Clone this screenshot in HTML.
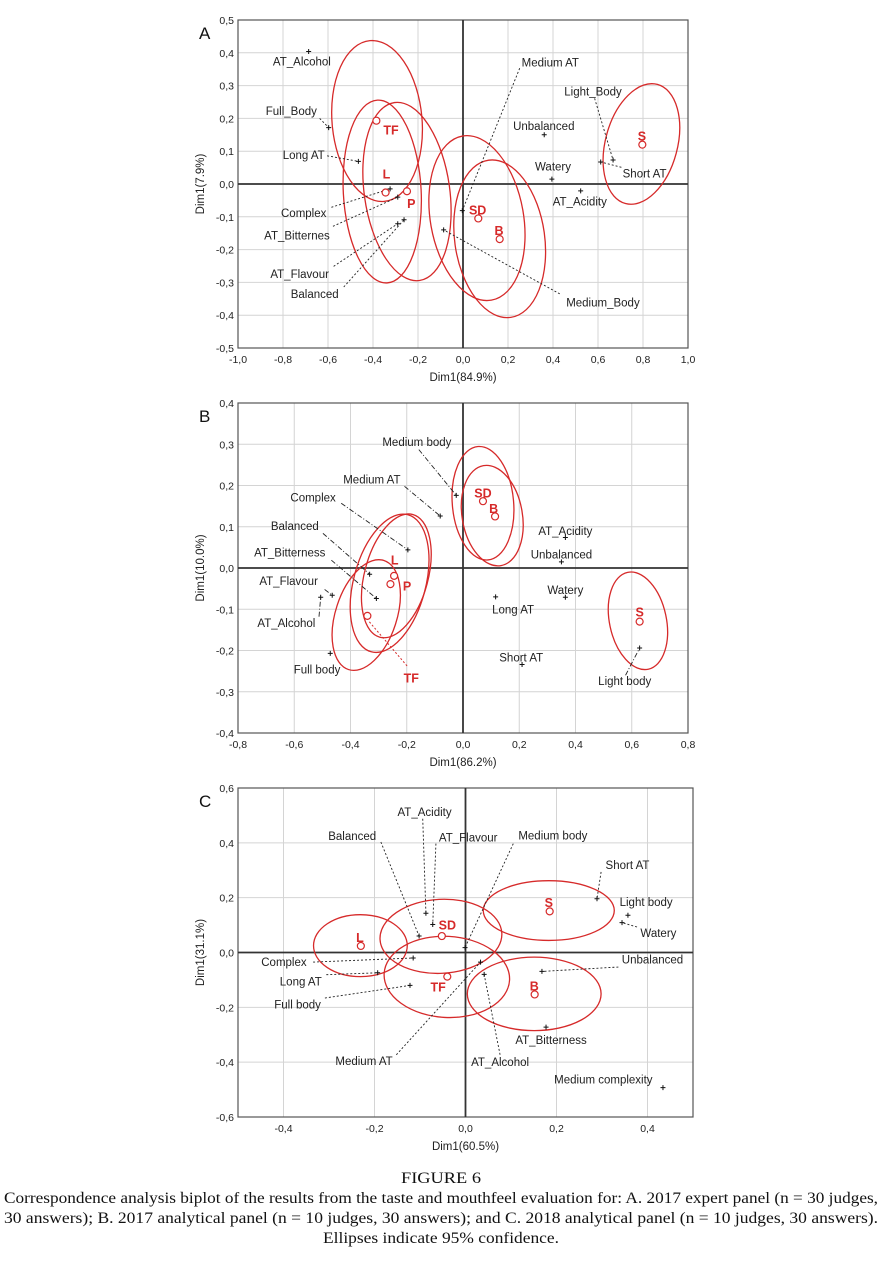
<!DOCTYPE html>
<html><head><meta charset="utf-8"><style>
html,body{margin:0;padding:0;background:#fff;}
svg{display:block;}
</style></head><body>
<svg id="fig" xmlns="http://www.w3.org/2000/svg" width="882" height="1261" viewBox="0 0 882 1261">
<rect x="0" y="0" width="882" height="1261" fill="#fff"/>
<g id="caption" font-family="Liberation Serif, serif" fill="#111">
<text x="441" y="1183" text-anchor="middle" font-size="16" textLength="80" lengthAdjust="spacingAndGlyphs">FIGURE 6</text>
<text x="4" y="1203" font-size="16" textLength="874" lengthAdjust="spacingAndGlyphs">Correspondence analysis biplot of the results from the taste and mouthfeel evaluation for: A. 2017 expert panel (n = 30 judges,</text>
<text x="4" y="1223" font-size="16" textLength="874" lengthAdjust="spacingAndGlyphs">30 answers); B. 2017 analytical panel (n = 10 judges, 30 answers); and C. 2018 analytical panel (n = 10 judges, 30 answers).</text>
<text x="441" y="1243" text-anchor="middle" font-size="16" textLength="236" lengthAdjust="spacingAndGlyphs">Ellipses indicate 95% confidence.</text>
</g>
</svg>
<script>
// ---------- Panel A data ----------
const aXTicks = [-1.0,-0.8,-0.6,-0.4,-0.2,0.0,0.2,0.4,0.6,0.8,1.0];
const aYTicks = [0.5,0.4,0.3,0.2,0.1,0.0,-0.1,-0.2,-0.3,-0.4,-0.5];
const aPtNames = ["TF","L","P","SD","B","S"];
const aPtX = [-0.385,-0.344,-0.249,0.068,0.163,0.797];
const aPtY = [0.193,-0.026,-0.022,-0.105,-0.168,0.120];
const aPtLabX = [-0.32,-0.34,-0.23,0.065,0.16,0.795];
const aPtLabY = [0.165,0.03,-0.06,-0.08,-0.142,0.146];
const aEllCX = [-0.382,-0.359,-0.249,0.062,0.163,0.793];
const aEllCY = [0.192,-0.023,-0.023,-0.104,-0.167,0.122];
const aEllRX = [0.200,0.173,0.190,0.207,0.200,0.160];
const aEllRY = [0.246,0.279,0.274,0.254,0.242,0.188];
const aEllRot = [-5,-3,-8,-10,-8,15];
const aAttrNames = ["AT_Alcohol","Full_Body","Long AT","Complex","AT_Bitternes","AT_Flavour","Balanced","Medium_Body","Medium AT","Unbalanced","Watery","AT_Acidity","Light_Body","Short AT"];
const aAttrX = [-0.686,-0.597,-0.465,-0.324,-0.290,-0.290,-0.262,-0.086,-0.003,0.361,0.395,0.523,0.667,0.612];
const aAttrY = [0.404,0.172,0.069,-0.015,-0.040,-0.121,-0.109,-0.140,-0.081,0.150,0.015,-0.021,0.073,0.067];
const aLabX = [-0.716,-0.763,-0.708,-0.708,-0.738,-0.726,-0.659,0.622,0.388,0.359,0.400,0.519,0.578,0.807];
const aLabY = [0.373,0.223,0.089,-0.089,-0.157,-0.274,-0.336,-0.361,0.371,0.177,0.053,-0.053,0.282,0.032];
const aLeadX = [null,-0.637,-0.604,-0.585,-0.578,-0.575,-0.530,0.430,0.252,null,null,null,0.585,0.704];
const aLeadY = [null,0.200,0.086,-0.071,-0.129,-0.251,-0.314,-0.335,0.353,null,null,null,0.261,0.051];

// ---------- Panel B data ----------
const bXTicks = [-0.8,-0.6,-0.4,-0.2,0.0,0.2,0.4,0.6,0.8];
const bYTicks = [0.4,0.3,0.2,0.1,0.0,-0.1,-0.2,-0.3,-0.4];
const bPtNames = ["SD","B","L","P","TF","S"];
const bPtX = [0.071,0.114,-0.245,-0.258,-0.340,0.628];
const bPtY = [0.162,0.125,-0.019,-0.039,-0.116,-0.130];
const bPtLabX = [0.071,0.109,-0.243,-0.199,-0.184,0.628];
const bPtLabY = [0.182,0.144,0.019,-0.044,-0.267,-0.107];
const bEllCX = [0.071,0.104,-0.261,-0.237,-0.344,0.622];
const bEllCY = [0.157,0.127,-0.037,-0.019,-0.114,-0.128];
const bEllRX = [0.109,0.107,0.128,0.113,0.109,0.101];
const bEllRY = [0.138,0.123,0.172,0.154,0.139,0.120];
const bEllRot = [-5,-10,15,15,18,-12];
const bAttrNames = ["Medium body","Medium AT","Complex","Balanced","AT_Bitterness","AT_Flavour","AT_Alcohol","Full body","AT_Acidity","Unbalanced","Watery","Long AT","Short AT","Light body"];
const bAttrX = [-0.024,-0.081,-0.196,-0.332,-0.308,-0.465,-0.506,-0.472,0.364,0.350,0.364,0.116,0.210,0.628];
const bAttrY = [0.176,0.126,0.044,-0.015,-0.074,-0.066,-0.071,-0.207,0.074,0.015,-0.071,-0.070,-0.234,-0.194];
const bLabX = [-0.164,-0.324,-0.533,-0.598,-0.616,-0.620,-0.628,-0.519,0.364,0.350,0.364,0.178,0.207,0.575];
const bLabY = [0.305,0.215,0.171,0.102,0.038,-0.032,-0.133,-0.246,0.090,0.033,-0.053,-0.100,-0.217,-0.274];
const bLeadX = [-0.157,-0.208,-0.433,-0.498,-0.468,-0.492,-0.512,null,null,null,null,null,null,0.578];
const bLeadY = [0.287,0.198,0.157,0.084,0.019,-0.052,-0.118,null,null,null,null,null,null,-0.260];

// ---------- Panel C data ----------
const cXTicks = [-0.4,-0.2,0.0,0.2,0.4];
const cYTicks = [0.6,0.4,0.2,0.0,-0.2,-0.4,-0.6];
const cPtNames = ["L","SD","TF","S","B"];
const cPtX = [-0.230,-0.052,-0.040,0.185,0.152];
const cPtY = [0.024,0.060,-0.088,0.150,-0.153];
const cPtLabX = [-0.232,-0.040,-0.060,0.183,0.151];
const cPtLabY = [0.054,0.100,-0.125,0.182,-0.122];
const cEllCX = [-0.231,-0.054,-0.041,0.183,0.151];
const cEllCY = [0.025,0.059,-0.089,0.153,-0.151];
const cEllRX = [0.103,0.134,0.138,0.144,0.147];
const cEllRY = [0.113,0.135,0.148,0.109,0.134];
const cEllRot = [0,-3,3,0,0];
const cAttrNames = ["AT_Acidity","Balanced","AT_Flavour","Medium body","Short AT","Light body","Watery","Unbalanced","Complex","Long AT","Full body","Medium AT","AT_Alcohol","AT_Bitterness","Medium complexity"];
const cAttrX = [-0.087,-0.102,-0.072,-0.001,0.289,0.357,0.344,0.168,-0.115,-0.193,-0.122,0.033,0.041,0.177,0.434];
const cAttrY = [0.143,0.060,0.102,0.018,0.196,0.136,0.109,-0.069,-0.020,-0.074,-0.120,-0.035,-0.080,-0.272,-0.493];
const cLabX = [-0.090,-0.249,0.006,0.192,0.356,0.397,0.424,0.411,-0.399,-0.362,-0.369,-0.223,0.076,0.188,0.303];
const cLabY = [0.512,0.425,0.419,0.427,0.320,0.184,0.072,-0.026,-0.035,-0.105,-0.190,-0.396,-0.399,-0.320,-0.463];
const cLeadX = [-0.094,-0.186,-0.065,0.105,0.298,null,0.377,0.336,-0.335,-0.306,-0.309,-0.152,0.076,null,null];
const cLeadY = [0.488,0.403,0.397,0.397,0.294,null,0.093,-0.053,-0.035,-0.081,-0.166,-0.373,-0.373,null,null];

const NS = "http://www.w3.org/2000/svg";
const svg = document.getElementById("fig");
function mk(tag, attrs, parent) {
  const e = document.createElementNS(NS, tag);
  for (const k in attrs) e.setAttribute(k, attrs[k]);
  parent.appendChild(e);
  return e;
}
function fmt(v){ return v.toFixed(1).replace('.',','); }

function drawPanel(p) {
  const g = mk("g", {}, svg);
  
  
  const sx = v => p.L + (v - p.x0) / (p.x1 - p.x0) * (p.R - p.L);
  const sy = v => p.T + (p.y1 - v) / (p.y1 - p.y0) * (p.B - p.T);
  p.xTicks.forEach(t => {
    if (Math.abs(t) > 1e-9 && t > p.x0 + 1e-9 && t < p.x1 - 1e-9) {
      const l = mk("line", {x1:sx(t), x2:sx(t), y1:p.T, y2:p.B, stroke:"#d4d4d4", "stroke-width":1}, g);
      
      
    }
    const tx = mk("text", {x:sx(t), y:p.B + 15, "text-anchor":"middle", "font-size":10.5, fill:"#222", "font-family":"Liberation Sans, sans-serif"}, g);
    tx.textContent = fmt(t);
    
    
  });
  p.yTicks.forEach(t => {
    if (Math.abs(t) > 1e-9 && t > p.y0 + 1e-9 && t < p.y1 - 1e-9) {
      const l = mk("line", {x1:p.L, x2:p.R, y1:sy(t), y2:sy(t), stroke:"#d4d4d4", "stroke-width":1}, g);
      
      
    }
    const tx = mk("text", {x:p.L - 4, y:sy(t) + 4, "text-anchor":"end", "font-size":10.5, fill:"#222", "font-family":"Liberation Sans, sans-serif"}, g);
    tx.textContent = fmt(t);
    
    
  });
  const fr = mk("rect", {x:p.L, y:p.T, width:p.R-p.L, height:p.B-p.T, fill:"none", stroke:"#555", "stroke-width":1.2}, g);
  
  
  const zx = mk("line", {x1:sx(0), x2:sx(0), y1:p.T, y2:p.B, stroke:"#333", "stroke-width":1.8}, g);
  
  
  const zy = mk("line", {x1:p.L, x2:p.R, y1:sy(0), y2:sy(0), stroke:"#333", "stroke-width":1.8}, g);
  
  
  const xt = mk("text", {x:(p.L+p.R)/2, y:p.B + 33, "text-anchor":"middle", "font-size":11.5, fill:"#222", "font-family":"Liberation Sans, sans-serif"}, g);
  xt.textContent = p.xTitle;
  
  
  const cy = (p.T+p.B)/2;
  const yt = mk("text", {x:204, y:cy, "text-anchor":"middle", "font-size":11.5, fill:"#222", "font-family":"Liberation Sans, sans-serif", transform:"rotate(-90 204 "+cy+")"}, g);
  yt.textContent = p.yTitle;
  
  
  const pl = mk("text", {x:199, y:p.T + 19, "font-size":17, fill:"#111", "font-family":"Liberation Sans, sans-serif"}, g);
  pl.textContent = p.id;
  
  
  const pxPerX = (p.R - p.L) / (p.x1 - p.x0), pxPerY = (p.B - p.T) / (p.y1 - p.y0);
  p.ellCX.forEach((c, i) => {
    const ex = sx(c), ey = sy(p.ellCY[i]);
    const el = mk("ellipse", {cx:ex, cy:ey, rx:p.ellRX[i]*pxPerX, ry:p.ellRY[i]*pxPerY, fill:"none", stroke:"#d62a2a", "stroke-width":1.3, transform:"rotate("+p.ellRot[i]+" "+ex+" "+ey+")"}, g);
    
    
  });
  p.attrNames.forEach((n, i) => {
    const mx = sx(p.attrX[i]), my = sy(p.attrY[i]);
    if (p.leadX[i] !== null) {
      const ld = mk("line", {x1:sx(p.leadX[i]), y1:sy(p.leadY[i]), x2:mx, y2:my, stroke:"#222", "stroke-width":0.9, "stroke-dasharray":p.dash}, g);
      
      
    }
    const mkp = mk("path", {d:"M"+(mx-2.5)+" "+my+"H"+(mx+2.5)+"M"+mx+" "+(my-2.5)+"V"+(my+2.5), stroke:"#111", "stroke-width":1}, g);
    
    
    const lb = mk("text", {x:sx(p.labX[i]), y:sy(p.labY[i]) + 4, "text-anchor":"middle", "font-size":11.5, fill:"#222", "font-family":"Liberation Sans, sans-serif"}, g);
    lb.textContent = n;
    
    
  });
  p.ptNames.forEach((n, i) => {
    const px = sx(p.ptX[i]), py = sy(p.ptY[i]);
    const c = mk("circle", {cx:px, cy:py, r:3.5, fill:"#fff", stroke:"#d62a2a", "stroke-width":1.2}, g);
    
    
    const lx = sx(p.ptLabX[i]), ly = sy(p.ptLabY[i]);
    if (p.id === "B" && n === "TF") {
      const tl = mk("line", {x1:px+2, y1:py+6, x2:lx-4, y2:ly-12, stroke:"#d62a2a", "stroke-width":1, "stroke-dasharray":"2,2"}, g);
      
      
    }
    const t = mk("text", {x:lx, y:ly + 4.5, "text-anchor":"middle", "font-size":12.5, "font-weight":"bold", fill:"#d62a2a", "font-family":"Liberation Sans, sans-serif"}, g);
    t.textContent = n;
    
    
  });
}

drawPanel({id:"A", L:238, R:688, T:20, B:348, x0:-1, x1:1, y0:-0.5, y1:0.5,
  xTicks:aXTicks, yTicks:aYTicks, xTitle:"Dim1(84.9%)", yTitle:"Dim1(7.9%)", dash:"2,2",
  ptNames:aPtNames, ptX:aPtX, ptY:aPtY, ptLabX:aPtLabX, ptLabY:aPtLabY,
  ellCX:aEllCX, ellCY:aEllCY, ellRX:aEllRX, ellRY:aEllRY, ellRot:aEllRot,
  attrNames:aAttrNames, attrX:aAttrX, attrY:aAttrY, labX:aLabX, labY:aLabY, leadX:aLeadX, leadY:aLeadY});
drawPanel({id:"B", L:238, R:688, T:403, B:733, x0:-0.8, x1:0.8, y0:-0.4, y1:0.4,
  xTicks:bXTicks, yTicks:bYTicks, xTitle:"Dim1(86.2%)", yTitle:"Dim1(10.0%)", dash:"5,2,1,2",
  ptNames:bPtNames, ptX:bPtX, ptY:bPtY, ptLabX:bPtLabX, ptLabY:bPtLabY,
  ellCX:bEllCX, ellCY:bEllCY, ellRX:bEllRX, ellRY:bEllRY, ellRot:bEllRot,
  attrNames:bAttrNames, attrX:bAttrX, attrY:bAttrY, labX:bLabX, labY:bLabY, leadX:bLeadX, leadY:bLeadY});
drawPanel({id:"C", L:238, R:693, T:788, B:1117, x0:-0.5, x1:0.5, y0:-0.6, y1:0.6,
  xTicks:cXTicks, yTicks:cYTicks, xTitle:"Dim1(60.5%)", yTitle:"Dim1(31.1%)", dash:"2,2",
  ptNames:cPtNames, ptX:cPtX, ptY:cPtY, ptLabX:cPtLabX, ptLabY:cPtLabY,
  ellCX:cEllCX, ellCY:cEllCY, ellRX:cEllRX, ellRY:cEllRY, ellRot:cEllRot,
  attrNames:cAttrNames, attrX:cAttrX, attrY:cAttrY, labX:cLabX, labY:cLabY, leadX:cLeadX, leadY:cLeadY});
</script>
</body></html>
